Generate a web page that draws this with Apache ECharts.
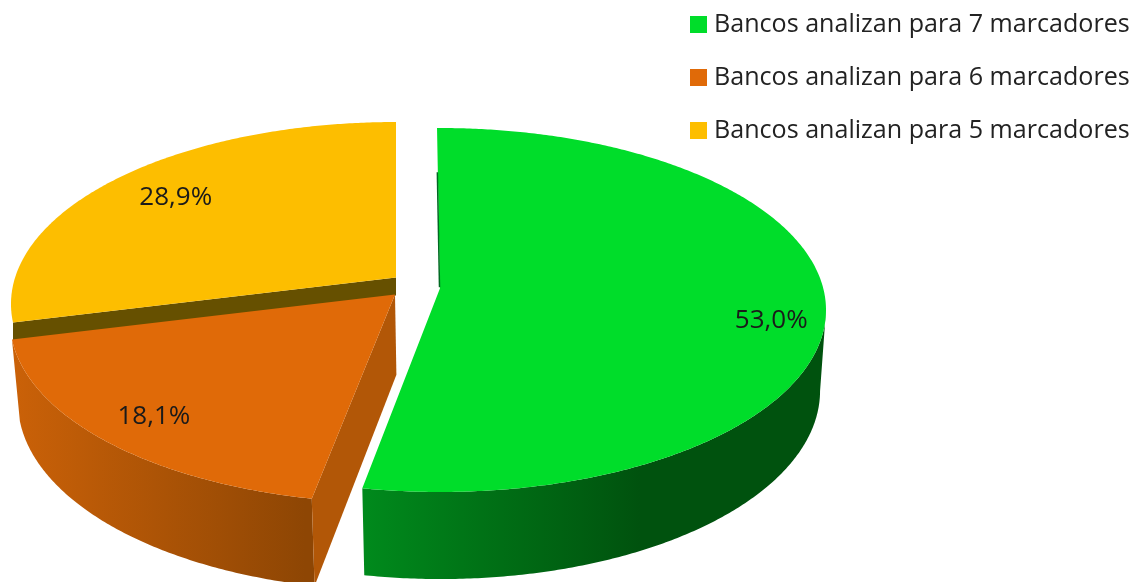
<!DOCTYPE html>
<html><head><meta charset="utf-8">
<style>html,body{margin:0;padding:0;background:#fff}#c{width:1137px;height:582px}</style>
<script src="https://cdn.jsdelivr.net/npm/echarts@6/dist/echarts.min.js"></script>
</head><body><div id="c"></div>
<script>
const categories = ['Bancos analizan para 7 marcadores','Bancos analizan para 6 marcadores','Bancos analizan para 5 marcadores'];
const shares = [53.0, 18.1, 28.9];
const topColors = ['#00DD2A','#E06A08','#FDBE00'];

// Pie view (perspective disc projected on an ellipse)
const RY = 182, DEPTH = 87, VANISH_X = 477, BOTTOM_SCALE = 0.983;
const sliceStyle = [
  {cx:440, cy:310, rx:386, k:.12, rot:-.5, labelR:.86, labelDy:19, sliver:true,
   wall:['#008A1C','#00520E','#00520E'], stops:[363,640,826], cut:null},
  {cx:395, cy:321, rx:385, k:.145, rot:0, labelR:.84, labelDy:3,
   wall:['#CA6108','#8E4604','#8E4604'], stops:[15,305,320], cut:'#B25707'},
  {cx:396, cy:304, rx:385, k:.145, rot:0, labelR:.785, labelDy:0, cutDepth:18,
   wall:['#665000','#665000','#665000'], stops:[0,200,400], cut:'#665000'}
];
const total = shares.reduce((a,b)=>a+b,0);
function project(s, r, deg){
  const a = (deg+s.rot)*Math.PI/180, x = r*Math.sin(a), y = r*Math.cos(a);
  const d = 1 + s.k*y;
  return [s.cx + s.rx*x*Math.sqrt(1-s.k*s.k)/d, s.cy - RY*(y+s.k)/d];
}
const lower = p => [VANISH_X + (p[0]-VANISH_X)*BOTTOM_SCALE, p[1]+DEPTH+(p[1]-490)*.035];

function renderSlice(index){
  return function(params, api){
    const value = api.value(0);
    const i = index;
    const s = sliceStyle[i];
    const start = shares.slice(0,i).reduce((a,b)=>a+b,0)/total*360;
    const end = start + value/total*360;
    const arc = [];
    for(let d=start; d<end; d+=0.5) arc.push(project(s,1,d));
    arc.push(project(s,1,end));
    const apex = project(s,0,0);
    const children = [];
    const grad = {type:'linear',global:true,x:s.stops[0],y:0,x2:s.stops[2],y2:0,colorStops:[
      {offset:0,color:s.wall[0]},
      {offset:(s.stops[1]-s.stops[0])/(s.stops[2]-s.stops[0]),color:s.wall[1]},
      {offset:1,color:s.wall[2]}]};
    // outer wall: front-facing run of the arc only (x falls as the angle grows)
    const front = arc.filter((p,n)=> n<arc.length-1 ? arc[n+1][0]<p[0] : arc[n-1][0]>p[0]);
    if(front.length>1 && !s.cutDepth){
      children.push({type:'polygon',shape:{points:front.concat(front.map(lower).reverse())},style:{fill:grad}});
    }
    // radial wall that faces the viewer
    if(s.cut){
      const p = arc[0];
      const down = s.cutDepth ? (q => [q[0], q[1]+s.cutDepth]) : lower;
      children.push({type:'polygon',shape:{points:[apex,p,down(p),down(apex)]},style:{fill:s.cut}});
    }
    // top face
    children.push({type:'polygon',shape:{points:[apex].concat(arc)},style:{fill:topColors[i]}});
    if(s.sliver){
      const t = project(s,.7,0);
      children.push({type:'line',shape:{x1:t[0]-.5,y1:t[1],x2:apex[0]-.5,y2:apex[1]-1},style:{stroke:'#006A22',lineWidth:1.5}});
    }
    // label
    const mid = (start+end)/2;
    const lp = project(s,s.labelR,mid);
    children.push({type:'text',style:{
      text:value.toFixed(1).replace('.',',')+'%',
      x:lp[0],y:lp[1]+s.labelDy,align:'center',verticalAlign:'middle',
      fill:'#1a1a1a',font:'26px "Open Sans"'}});
    return {type:'group',children};
  };
}

const chart = echarts.init(document.getElementById('c'),null,{renderer:'canvas'});
chart.setOption({
  animation:false,
  backgroundColor:'#fff',
  legend:{
    data:categories, orient:'vertical', left:685, top:7,
    itemWidth:17,itemHeight:17,itemGap:28,
    icon:'rect', selectedMode:false,
    textStyle:{fontFamily:'Open Sans',fontSize:25.1,color:'#222',padding:[0,0,0,2]}
  },
  series:categories.map((name,i)=>({
    type:'custom',name,coordinateSystem:'none',silent:true,
    z:[6,3,2][i],
    itemStyle:{color:topColors[i]},
    renderItem:renderSlice(i),
    data:[[shares[i]]]
  }))
});
</script></body></html>
